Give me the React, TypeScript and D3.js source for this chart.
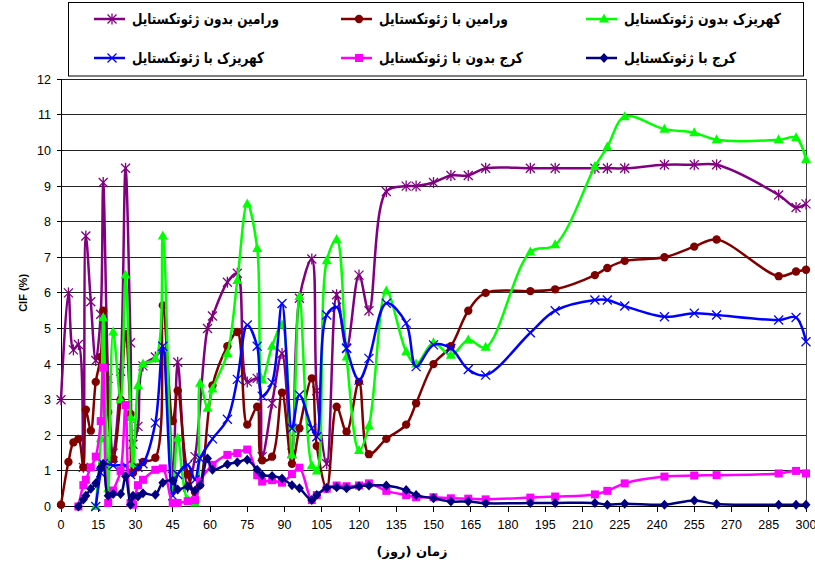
import React from 'react';
import * as d3 from 'd3';

// sampling days (x axis)
const days = [0, 3, 5, 7, 9, 10, 12, 14, 16, 17, 19, 21, 24, 26, 28, 29, 31, 33, 38, 41, 45, 47, 51, 54, 56, 59, 61, 67, 71, 75, 79, 81, 85, 89, 93, 96, 101, 103, 107, 111, 115, 120, 124, 131, 139, 143, 150, 157, 164, 171, 189, 199, 215, 220, 227, 243, 255, 264, 289, 296, 300];

const varaminNoGeo = [3.0, 6.0, 4.4, 4.55, 1.1, 7.6, 5.75, 4.1, 5.4, 9.1,
  3.6, 1.5, 3.8, 9.5, 4.6, 1.75, 2.25, 3.95, 4.2, 4.4,
  0.85, 4.05, 0.55, 1.4, null, 5.0, 5.35, 6.3, 6.55, 3.5,
  3.6, 1.4, 2.9, 4.3, 1.5, 5.85, 6.95, 3.25, 1.2, 5.95,
  4.45, 6.5, 5.5, 8.85, 9.0, 9.0, 9.1, 9.3, 9.3, 9.5,
  9.5, 9.5, 9.5, 9.5, 9.5, 9.6, 9.6, 9.6, 8.75, 8.4,
  8.5];

const varaminGeo = [0.05, 1.25, 1.8, 1.9, 1.1, 2.72, 2.13, 3.5, 4.2, 5.5,
  2.65, 1.33, 3.0, 4.85, 2.6, 0.95, 1.1, 1.25, 1.37, 5.65,
  2.4, 3.25, 0.9, 0.4, 0.6, null, 3.4, 4.5, 4.9, 2.3,
  2.8, 1.3, 1.4, 3.2, 1.2, 2.2, 3.6, 1.7, 0.5, 2.8,
  2.1, 3.5, 1.47, 1.9, 2.3, 2.9, 4.0, 4.5, 5.5, 6.0,
  6.05, 6.1, 6.5, 6.7, 6.9, 7.0, 7.3, 7.5, 6.47, 6.6,
  6.65];

const kahrizakNoGeo = [null, null, null, null, null, null, null, 0, 1.9, 5.3,
  0.5, 4.9, 3.0, 6.5, 2.5, 1.2, 3.4, 4.0, 4.15, 7.6,
  0.5, 1.92, 0.18, 0.1, 3.46, 2.76, 3.3, 4.3, 6.35, 8.5,
  7.25, 3.55, 4.5, 5.1, 1.45, 5.9, 1.15, 1.0, 6.9, 7.5,
  4.2, 1.57, 2.26, 6.05, 4.35, 4.0, 4.6, 4.25, 4.68, 4.47,
  7.15, 7.35, 9.55, 10.1, 10.95, 10.6, 10.5, 10.3, 10.3, 10.36,
  9.75];

const kahrizakGeo = [null, null, null, null, null, null, null, 0, 0.95, 1.2,
  null, 1.15, null, 1.15, 0.9, null, 1.1, 1.2, 2.35, 4.5,
  0.3, 0.9, 1.17, 0.75, 1.35, null, 1.9, 2.45, 3.57, 5.1,
  4.5, 3.1, 3.48, 5.7, 2.2, 3.13, 2.2, 1.96, 5.38, 5.6,
  4.44, 3.55, 4.16, 5.71, 5.15, 3.93, 4.54, 4.44, 3.85, 3.69,
  4.88, 5.5, 5.8, 5.8, 5.63, 5.33, 5.43, 5.38, 5.24, 5.31,
  4.63];

const karajNoGeo = [null, null, null, 0, 0.6, 0.75, 1.1, 1.4, 2.4, 3.9,
  0.1, 0.45, 1.0, 2.85, 0.1, 0.05, 0.6, 0.75, 1.03, 1.07,
  0.1, 0.1, 0.15, 0.18, 0.7, null, 1.17, 1.45, 1.5, 1.6,
  0.88, 0.7, 0.74, 0.67, 0.91, 1.09, 0.18, 0.32, 0.5, 0.59,
  0.57, 0.59, 0.65, 0.44, 0.32, 0.26, 0.26, 0.23, 0.22, 0.2,
  0.25, 0.28, 0.34, 0.44, 0.65, 0.84, 0.87, 0.88, 0.93, 1.0,
  0.93];

const karajGeo = [null, null, null, 0, 0.2, 0.3, 0.5, 0.65, 1.1, 1.2,
  0.3, 0.35, 0.35, 0.85, 0.05, 0.3, 0.28, 0.37, 0.33, 0.67,
  0.72, 0.48, 0.56, 0.45, 0.6, 1.35, 1.03, 1.19, 1.24, 1.31,
  1.03, 0.88, 0.86, 0.79, 0.6, 0.51, 0.18, 0.32, 0.53, 0.54,
  0.51, 0.57, 0.59, 0.59, 0.46, 0.32, 0.23, 0.14, 0.14, 0.09,
  0.1, 0.1, 0.1, 0.05, 0.08, 0.05, 0.17, 0.07, 0.05, 0.05,
  0.05];

const seriesNames = ['ورامین بدون ژئوتکستایل', 'ورامین با ژئوتکستایل', 'کهریزک بدون ژئوتکستایل', 'کهریزک با ژئوتکستایل', 'کرج بدون با ژئوتکستایل', 'کرج با ژئوتکستایل'];
const seriesColors = ['#800080', '#800000', '#00ff00', '#0000ff', '#ff00ff', '#000080'];
const seriesMarkers = ['star', 'circle', 'triangle', 'x', 'square', 'diamond'];
const seriesValues = [varaminNoGeo, varaminGeo, kahrizakNoGeo, kahrizakGeo, karajNoGeo, karajGeo];
const legendTextWidths = [147, 129, 157, 132, 144, 112];

const xTicks = d3.range(0, 301, 15);
const yTicks = d3.range(0, 13, 1);

const W = 815, H = 569;
const left = 61, right = 806, top = 79.3, bottom = 506.5;

function Marker({ type, x, y, color }) {
  if (type === 'star') {
    const s = 4.5;
    return <g stroke={color} strokeWidth={1.3}>
      <line x1={x - s} y1={y - s} x2={x + s} y2={y + s} />
      <line x1={x - s} y1={y + s} x2={x + s} y2={y - s} />
      <line x1={x} y1={y - s - 1} x2={x} y2={y + s + 1} />
    </g>;
  }
  if (type === 'x') {
    const s = 4.5;
    return <g stroke={color} strokeWidth={1.3}>
      <line x1={x - s} y1={y - s} x2={x + s} y2={y + s} />
      <line x1={x - s} y1={y + s} x2={x + s} y2={y - s} />
    </g>;
  }
  if (type === 'circle') return <circle cx={x} cy={y} r={4.2} fill={color} />;
  if (type === 'square') return <rect x={x - 4} y={y - 4} width={8} height={8} fill={color} />;
  if (type === 'triangle') return <path d={`M${x},${y - 5.5}L${x + 5},${y + 3.5}L${x - 5},${y + 3.5}Z`} fill={color} />;
  return <path d={`M${x},${y - 5}L${x + 4.5},${y}L${x},${y + 5}L${x - 4.5},${y}Z`} fill={color} />;
}

export default function App() {
  const x = d3.scaleLinear().domain([0, 300]).range([left, right]);
  const y = d3.scaleLinear().domain([0, 12]).range([bottom, top]);

  const line = d3.line()
    .x(d => x(d[0]))
    .y(d => y(d[1]))
    .curve(d3.curveCatmullRom.alpha(0.5));

  const series = seriesValues.map(vals =>
    days.map((d, i) => [d, vals[i]]).filter(p => p[1] !== null)
  );

  const legendCols = [94, 341, 586];
  const legendRows = [19, 58];

  return (
    <svg width={W} height={H} style={{ position: 'absolute', left: 0, top: 0, background: '#fff' }}
      fontFamily="'Liberation Sans', Arial, sans-serif">
      {/* grid */}
      <g shapeRendering="crispEdges">
        {yTicks.map(t => (
          <line key={t} x1={left} x2={right} y1={y(t)} y2={y(t)} stroke="#222" strokeWidth={1} />
        ))}
        <line x1={right} x2={right} y1={top} y2={bottom} stroke="#444" />
        <line x1={left} x2={left} y1={top} y2={bottom + 1} stroke="#000" />
        <line x1={left} x2={right} y1={bottom} y2={bottom} stroke="#000" />
        {xTicks.map(t => (
          <line key={t} x1={x(t)} x2={x(t)} y1={bottom} y2={bottom + 5} stroke="#000" />
        ))}
        {yTicks.map(t => (
          <line key={t} x1={left - 4} x2={left} y1={y(t)} y2={y(t)} stroke="#000" />
        ))}
      </g>

      {/* axis labels */}
      {yTicks.map(t => (
        <text key={t} x={51} y={y(t) + 4.5} fontSize={12.5} textAnchor="end" fill="#000">{t}</text>
      ))}
      {xTicks.map(t => (
        <text key={t} x={x(t)} y={529} fontSize={12.5} textAnchor="middle" fill="#000">{t}</text>
      ))}
      <text transform={`translate(27,${(top + bottom) / 2}) rotate(-90)`} textAnchor="middle"
        fontSize={11} fontWeight="bold">CIF (%)</text>
      <text x={412} y={556} textAnchor="middle" direction="rtl" fontSize={13}
        fontWeight="bold" fontFamily="'DejaVu Sans', sans-serif">زمان (روز)</text>

      {/* series */}
      {series.map((pts, i) => (
        <g key={i}>
          <path d={line(pts)} fill="none" stroke={seriesColors[i]} strokeWidth={2.5} />
          {pts.map((p, j) => (
            <Marker key={j} type={seriesMarkers[i]} x={x(p[0])} y={y(p[1])} color={seriesColors[i]} />
          ))}
        </g>
      ))}

      {/* legend */}
      <rect x={68.5} y={2.5} width={735} height={73.5} fill="#fff" stroke="#000" strokeWidth={1} />
      {seriesNames.map((name, i) => {
        const cx = legendCols[i % 3];
        const cy = legendRows[Math.floor(i / 3)];
        return (
          <g key={i}>
            <line x1={cx} x2={cx + 31} y1={cy} y2={cy} stroke={seriesColors[i]} strokeWidth={2.5} />
            <Marker type={seriesMarkers[i]} x={cx + 18} y={cy} color={seriesColors[i]} />
            <text x={cx + 38} y={cy + 5} fontSize={15} fontWeight="bold"
              textLength={legendTextWidths[i]} lengthAdjust="spacingAndGlyphs"
              fontFamily="'DejaVu Sans', sans-serif">{name}</text>
          </g>
        );
      })}
    </svg>
  );
}
